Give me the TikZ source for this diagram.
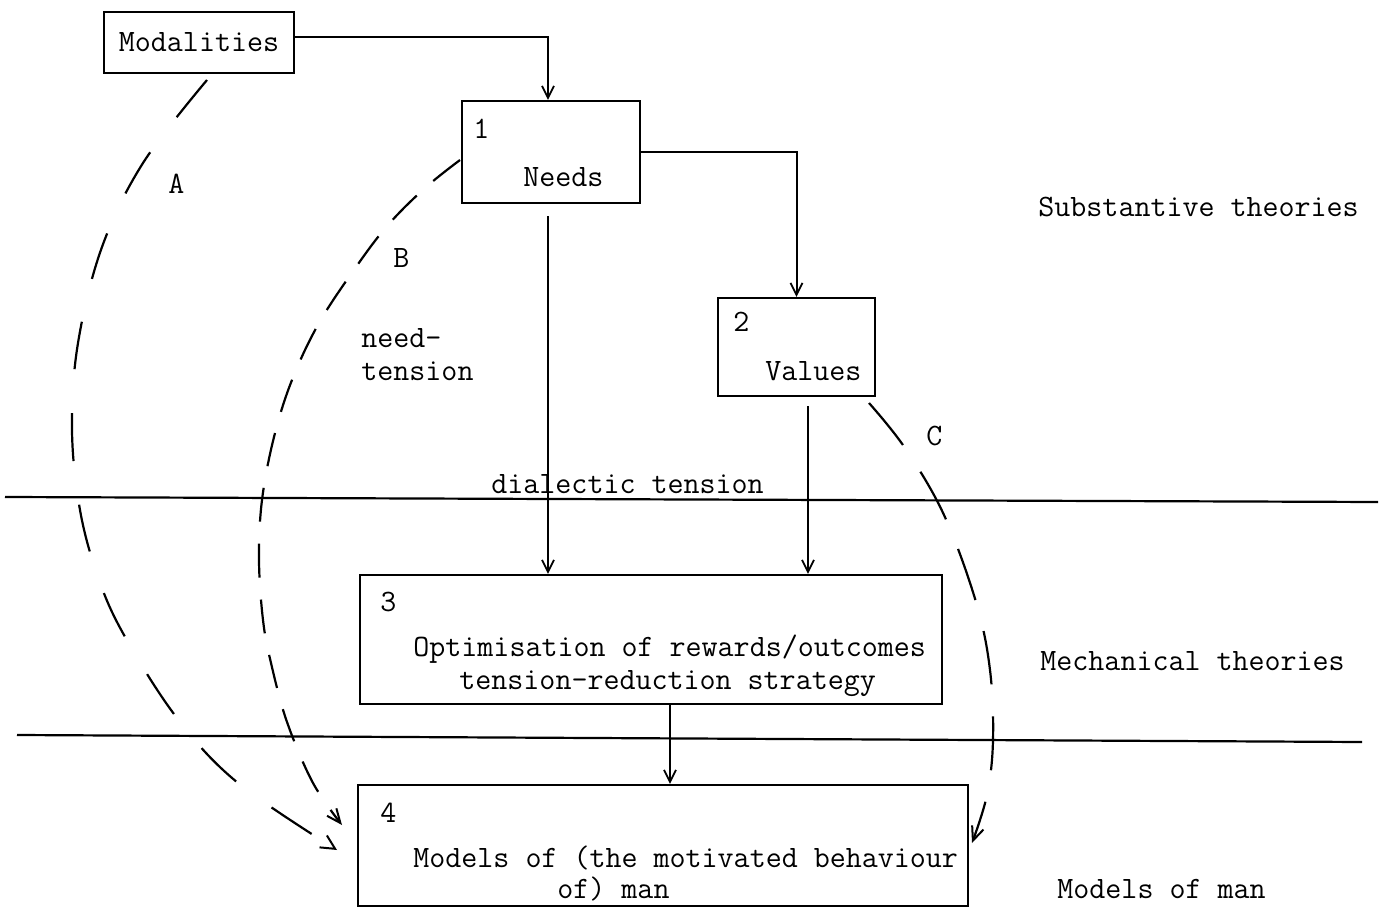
\documentclass[tikz,border=0pt]{standalone}
\usetikzlibrary{arrows.meta}
\begin{document}
\begin{tikzpicture}[x=0.5pt,y=-0.5pt,
  every node/.style={font=\fontsize{15.55}{18}\selectfont\ttfamily},
  box/.style={draw,line width=1.1pt,inner sep=0pt,rectangle},
  txt/.style={inner sep=0pt,anchor=base west},
  conn/.style={line width=1pt,-{Straight Barb[length=6pt,width=6pt,line width=0.9pt]}},
  rule/.style={line width=1.1pt},
  dashA/.style={line width=1.1pt,dash pattern=on 24pt off 22pt,
    -{Straight Barb[length=7pt,width=7pt,line width=1pt]}},
  dashB/.style={line width=1.1pt,dash pattern=on 17pt off 11pt,
    -{Straight Barb[length=7pt,width=6pt,line width=1pt]}},
  dashC/.style={line width=1.1pt,dash pattern=on 27pt off 16pt,
    -{Straight Barb[length=7pt,width=6pt,line width=1pt]}}]
\useasboundingbox (0,0) rectangle (1385,908);

% boxes
\node[box,minimum width=95pt,minimum height=30.5pt] (mod) at (199,42.5) {Modalities};
\node[box,minimum width=89pt,minimum height=51pt] (needs) at (551,152) {};
\node[box,minimum width=78.5pt,minimum height=49pt] (values) at (796.5,347) {};
\node[box,minimum width=291pt,minimum height=64.5pt] (opt) at (651,639.5) {};
\node[box,minimum width=305pt,minimum height=60.5pt] (models) at (663,845.5) {};

% box contents
\node[txt] (n1) at (473,139) {1};
\node[txt] (n1t) at (523,187) {Needs};
\node[txt] (n2) at (733,332) {2};
\node[txt] (n2t) at (765,381) {Values};
\node[txt] (n3) at (380,611) {3};
\node[txt] (n3a) at (413,656) {Optimisation of rewards/outcomes};
\node[txt] (n3b) at (459,689) {tension-reduction strategy};
\node[txt] (n4) at (380,822) {4};
\node[txt] (n4a) at (413,867) {Models of (the motivated behaviour};
\node[txt] (n4b) at (557,898) {of) man};

% free labels
\node[txt] (la) at (168,194) {A};
\node[txt] (lb) at (393,268) {B};
\node[txt] (lc) at (926,445) {C};
\node[txt] (nt1) at (361,348) {need-};
\node[txt] (nt2) at (361,381) {tension};
\node[txt] (dt) at (491,494) {dialectic tension};
\node[txt] (sub) at (1038,217) {Substantive theories};
\node[txt] (mech) at (1040,670) {Mechanical theories};
\node[txt] (mom) at (1057,898) {Models of man};

% level separators
\coordinate (r1a) at (5,497);
\coordinate (r1b) at (1378,502);
\coordinate (r2a) at (17,735);
\coordinate (r2b) at (1362,742);
\draw[rule] (r1a) -- (r1b);
\draw[rule] (r2a) -- (r2b);

% solid connectors
\draw[conn] ([yshift=2.75pt]mod.east) -| ([xshift=-1.5pt]needs.north);
\draw[conn] (needs.east) -| (values.north);
\coordinate (ns) at ([xshift=-1.5pt,yshift=-6pt]needs.south);
\draw[conn] (ns) -- (ns |- opt.north);
\coordinate (vs) at ([xshift=5.75pt,yshift=-4.5pt]values.south);
\draw[conn] (vs) -- (vs |- opt.north);
\coordinate (os) at ([xshift=9.5pt]opt.south);
\draw[conn] (os) -- (os |- models.north);

% dashed influence paths
\coordinate (aS) at (207,80);
\coordinate (aE) at (337,850);
\draw[dashA] plot[smooth,tension=0.6] coordinates {(aS) (143,163) (102,247) (78,343) (72,430) (80,510) (98,577) (124,635) (177,718) (238,783) (aE)};
\coordinate (bS) at (460,160);
\coordinate (bE) at (342,825);
\draw[dashB] plot[smooth,tension=0.6] coordinates {(bS) (425,188) (388,225) (356,267) (319,323) (292,380) (274,437) (262,500) (259,560) (263,620) (271,663) (287,722) (313,783) (bE)};
\coordinate (cS) at (869,403);
\coordinate (cE) at (972,843);
\draw[dashC] plot[smooth,tension=0.6] coordinates {(cS) (905,448) (944,515) (976,602) (990,670) (993,740) (987,795) (cE)};
\end{tikzpicture}
\end{document}
